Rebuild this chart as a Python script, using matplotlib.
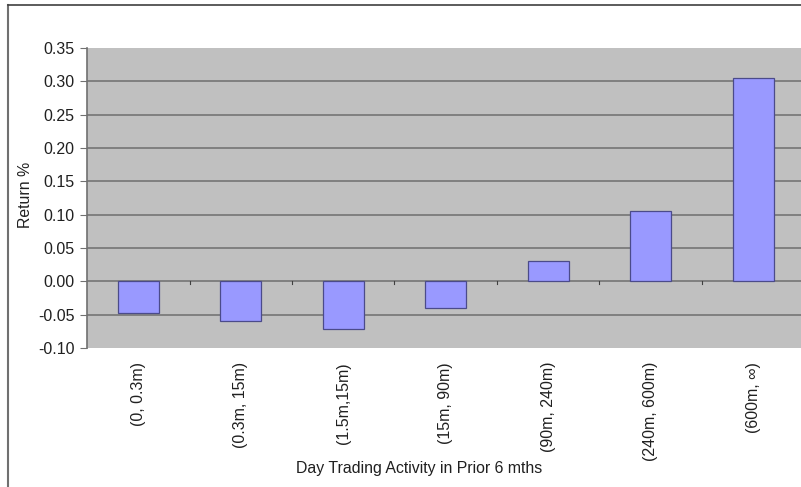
import matplotlib.pyplot as plt
from matplotlib.lines import Line2D
import numpy as np

plt.rcParams['font.family'] = ['Liberation Sans', 'DejaVu Sans']

categories = ['(0, 0.3m)', '(0.3m, 15m)', '(1.5m,15m)', '(15m, 90m)',
              '(90m, 240m)', '(240m, 600m)', '(600m, \u221e)']
returns = [-0.047, -0.060, -0.072, -0.040, 0.030, 0.106, 0.305]
yticks = [-0.10, -0.05, 0.00, 0.05, 0.10, 0.15, 0.20, 0.25, 0.30, 0.35]

fig = plt.figure(figsize=(8.01, 4.87), dpi=100)
fig.patch.set_facecolor('white')

# outer chart frame (right/bottom edges fall outside the picture)
fig.add_artist(Line2D([8/801, 8/801], [0, 1 - 5/487], color='#707070', lw=1.5))
fig.add_artist(Line2D([8/801, 1], [1 - 5/487, 1 - 5/487], color='#404040', lw=1.2))

ax = fig.add_axes([87/801, 1 - 348/487, 717.5/801, 300/487])
ax.set_facecolor('#C0C0C0')

x = np.arange(len(categories))
ax.set_xlim(-0.5, len(categories) - 0.5)
ax.set_ylim(-0.10, 0.35)

# gridlines
for v in yticks[1:-1]:
    ax.axhline(v, color='#6E6E6E', lw=1.1, zorder=1)

ax.bar(x, returns, width=0.4, color='#9999FF', edgecolor='#4B4B8A',
       lw=0.9, zorder=3)

# category tick marks on the zero line
for b in np.arange(0.5, len(categories) - 0.5, 1):
    ax.plot([b, b], [0, -0.004], color='#404040', lw=0.8, zorder=2)

for s in ['top', 'right', 'bottom']:
    ax.spines[s].set_visible(False)
ax.spines['left'].set_color('#707070')
ax.spines['left'].set_linewidth(1.2)

ax.set_yticks(yticks)
ax.set_yticklabels(['%.2f' % v for v in yticks], fontsize=11.5, color='#202020')
ax.tick_params(axis='y', length=5, width=0.8, color='#707070', pad=4)

ax.set_xticks(x)
ax.set_xticklabels(categories, rotation=90, fontsize=11.5, color='#202020')
ax.tick_params(axis='x', length=0, pad=10)

ax.set_ylabel('Return %', fontsize=11.4, color='#202020')
ax.yaxis.set_label_coords(-54/717.5, (348 - 195) / 300)
fig.text(419/801, 1 - 468/487, 'Day Trading Activity in Prior 6 mths',
         fontsize=11.4, ha='center', va='center', color='#202020')

fig.savefig('out.png', dpi=100)
